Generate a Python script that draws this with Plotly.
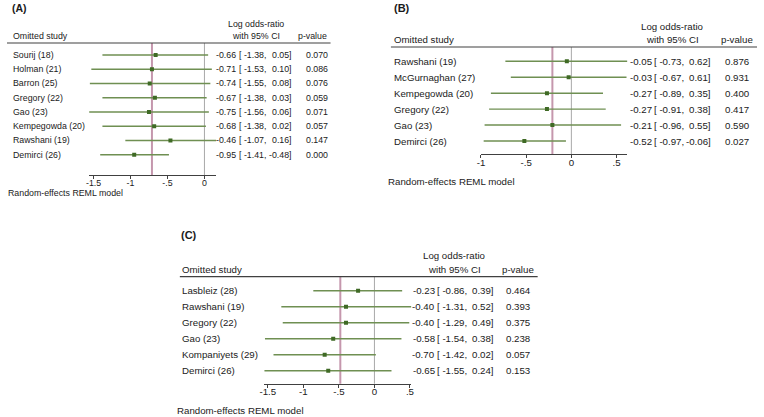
import plotly.graph_objects as go

W, H = 764, 417
FONT = "Liberation Sans, Arial, sans-serif"
CI_COL = "#6f8f52"
PT_COL = "#3f6a25"
POOL_COL = "#c597ad"
ZERO_COL = "#a8a8a8"
TXT = "#1a1a1a"

# Panel A
a_studies = ["Sourij (18)", "Holman (21)", "Barron (25)", "Gregory (22)", "Gao (23)",
             "Kempegowda (20)", "Rawshani (19)", "Demirci (26)"]
a_est = [-0.66, -0.71, -0.74, -0.67, -0.75, -0.68, -0.46, -0.95]
a_lo = [-1.38, -1.53, -1.55, -1.38, -1.56, -1.38, -1.07, -1.41]
a_hi = [0.05, 0.10, 0.08, 0.03, 0.06, 0.02, 0.16, -0.48]
a_p = ["0.070", "0.086", "0.076", "0.059", "0.071", "0.057", "0.147", "0.000"]
a_overall = -0.71
a_ticks = [-1.5, -1, -0.5, 0]
a_ticktext = ["-1.5", "-1", "-.5", "0"]

# Panel B
b_studies = ["Rawshani (19)", "McGurnaghan (27)", "Kempegowda (20)", "Gregory (22)",
             "Gao (23)", "Demirci (26)"]
b_est = [-0.05, -0.03, -0.27, -0.27, -0.21, -0.52]
b_lo = [-0.73, -0.67, -0.89, -0.91, -0.96, -0.97]
b_hi = [0.62, 0.61, 0.35, 0.38, 0.55, -0.06]
b_p = ["0.876", "0.931", "0.400", "0.417", "0.590", "0.027"]
b_overall = -0.21
b_ticks = [-1, -0.5, 0, 0.5]
b_ticktext = ["-1", "-.5", "0", ".5"]

# Panel C
c_studies = ["Lasbleiz (28)", "Rawshani (19)", "Gregory (22)", "Gao (23)",
             "Kompaniyets (29)", "Demirci (26)"]
c_est = [-0.23, -0.40, -0.40, -0.58, -0.70, -0.65]
c_lo = [-0.86, -1.31, -1.29, -1.54, -1.42, -1.55]
c_hi = [0.39, 0.52, 0.49, 0.38, 0.02, 0.24]
c_p = ["0.464", "0.393", "0.375", "0.238", "0.057", "0.153"]
c_overall = -0.48
c_ticks = [-1.5, -1, -0.5, 0, 0.5]
c_ticktext = ["-1.5", "-1", "-.5", "0", ".5"]

fig = go.Figure()


def px(x):
    return x / W


def py(y):
    return 1 - y / H


def add_panel(n, label, studies, est, lo, hi, pv, overall, ticks, ticktext, g):
    xa = "x" if n == 1 else f"x{n}"
    ya = "y" if n == 1 else f"y{n}"
    fs = g["fs"]
    rows = list(range(len(studies)))

    # confidence intervals
    for i in rows:
        fig.add_trace(go.Scatter(x=[lo[i], hi[i]], y=[i, i], mode="lines",
                                 line=dict(color=CI_COL, width=1.4),
                                 xaxis=xa, yaxis=ya, showlegend=False, hoverinfo="skip"))
    fig.add_trace(go.Scatter(x=est, y=rows, mode="markers",
                             marker=dict(color=PT_COL, size=4, symbol="square"),
                             xaxis=xa, yaxis=ya, showlegend=False))

    xr = [min(min(lo), min(ticks)), max(max(hi), max(ticks))]
    top = (g["head"] - g["row0"]) / g["step"]
    bot = (g["axis"] - g["row0"]) / g["step"]
    key = "" if n == 1 else str(n)
    fig.update_layout(**{
        f"xaxis{key}": dict(domain=[px(g["x0"]), px(g["x1"])], range=xr, anchor=ya,
                            showline=True, linecolor="#404040", linewidth=1,
                            ticks="outside", ticklen=3, tickcolor="#404040",
                            ticklabelstandoff=-4,
                            tickvals=ticks, ticktext=ticktext, showgrid=False,
                            zeroline=False, tickfont=dict(size=fs, family=FONT, color=TXT)),
        f"yaxis{key}": dict(domain=[py(g["axis"]), py(g["head"])], range=[bot, top],
                            anchor=xa, visible=False),
    })

    # zero and pooled lines, behind the markers
    fig.add_shape(type="line", xref=xa, yref=f"{ya} domain", x0=0, x1=0, y0=0, y1=1,
                  line=dict(color=ZERO_COL, width=1), layer="below")
    fig.add_shape(type="line", xref=xa, yref=f"{ya} domain", x0=overall, x1=overall,
                  y0=0, y1=1, line=dict(color=POOL_COL, width=2), layer="below")
    # header rule
    fig.add_shape(type="line", xref="paper", yref="paper", x0=px(g["rule"][0]),
                  x1=px(g["rule"][1]), y0=py(g["head"]), y1=py(g["head"]),
                  line=dict(color="#404040", width=1.2))

    def note(x, y, text, anchor="left", size=fs, bold=False, yref="paper"):
        fig.add_annotation(x=px(x), y=y if yref != "paper" else py(y), xref="paper",
                           yref=yref, text=f"<b>{text}</b>" if bold else text,
                           showarrow=False, xanchor=anchor, yanchor="middle",
                           borderpad=0, font=dict(size=size, family=FONT, color=TXT))

    note(g["lab"][0], g["lab"][1], label, size=g["title_fs"], bold=True)
    note(g["left"], g["hrow2"], "Omitted study")
    note(g["ci_c"], g["hrow1"], "Log odds-ratio", anchor="center")
    note(g["ci_c"], g["hrow2"], "with 95% CI", anchor="center")
    note(g["p_c"], g["hrow2"], "p-value", anchor="center")
    note(g["model"][0], g["model"][1], "Random-effects REML model")

    for i in rows:
        note(g["left"], i, studies[i], yref=ya)
        note(g["est_r"], i, f"{est[i]:.2f}", anchor="right", yref=ya)
        note(g["lo_r"], i, f"[ {lo[i]:.2f},", anchor="right", yref=ya)
        note(g["hi_r"], i, f"{hi[i]:.2f}]", anchor="right", yref=ya)
        note(g["p_l"], i, pv[i], yref=ya)


add_panel(1, "(A)", a_studies, a_est, a_lo, a_hi, a_p, a_overall, a_ticks, a_ticktext,
          dict(fs=8.8, title_fs=10.5, x0=85, x1=213.5, head=43, axis=175, row0=55,
               step=14.24, rule=(2, 329), lab=(6, 8.5), left=7, hrow1=24.5, hrow2=36,
               ci_c=254, p_c=311, model=(2, 192.5), est_r=234, lo_r=265, hi_r=291.5,
               p_l=303))

add_panel(2, "(B)", b_studies, b_est, b_lo, b_hi, b_p, b_overall, b_ticks, b_ticktext,
          dict(fs=9.7, title_fs=11, x0=481, x1=629, head=47, axis=154.3, row0=61.3,
               step=15.94, rule=(390, 760), lab=(392, 8.5), left=392, hrow1=26,
               hrow2=39.5, ci_c=674.5, p_c=740, model=(386.5, 182), est_r=654.6,
               lo_r=687.5, hi_r=714.4, p_l=726.5))

add_panel(3, "(C)", c_studies, c_est, c_lo, c_hi, c_p, c_overall, c_ticks, c_ticktext,
          dict(fs=9.7, title_fs=11, x0=262, x1=410.7, head=276.7, axis=383.7,
               row0=290.7, step=16, rule=(176.7, 538.3), lab=(176.5, 235), left=178,
               hrow1=256, hrow2=269.5, ci_c=454, p_c=518, model=(173, 410),
               est_r=435.4, lo_r=468.3, hi_r=495.2, p_l=505))

fig.update_layout(width=W, height=H, margin=dict(l=0, r=0, t=0, b=0),
                  plot_bgcolor="white", paper_bgcolor="white", showlegend=False,
                  font=dict(family=FONT, color=TXT))

fig.write_html("out.html", config={"displayModeBar": False},
               post_script="document.body.style.margin='0px';")
